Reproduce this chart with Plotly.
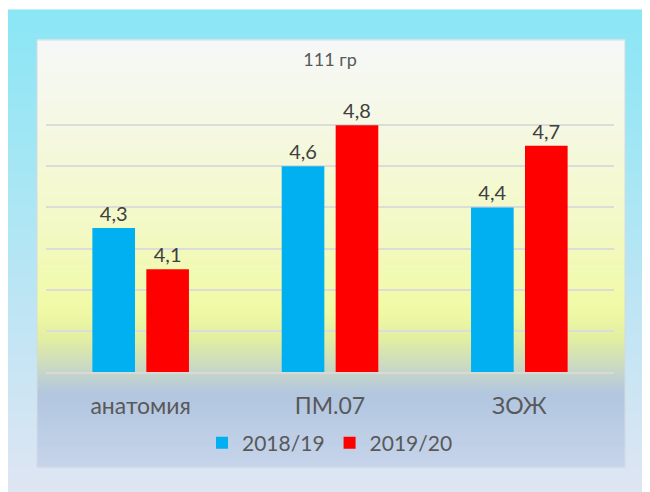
import plotly.graph_objects as go

categories = ["анатомия", "ПМ.07", "ЗОЖ"]
series_names = ["2018/19", "2019/20"]
values_2018 = [4.3, 4.6, 4.4]
values_2019 = [4.1, 4.8, 4.7]
series_colors = ["#00B0F0", "#FF0000"]
chart_title = "111 гр"

W, H = 650, 492
OFF = 8  # page body margin in the screenshot
L, R, T, B = 38, 44, 76, 128
PW, PH = W - L - R, H - T - B
FONT = "Lato, Carlito, 'Open Sans', sans-serif"


def px_to_paper_x(px):
    # px measured in screenshot coordinates
    return (px - OFF - L) / PW


def px_to_paper_y(py):
    return (H - B - (py - OFF)) / PH


def interp(stops, y):
    for (y0, c0), (y1, c1) in zip(stops, stops[1:]):
        if y0 <= y <= y1:
            t = (y - y0) / (y1 - y0) if y1 != y0 else 0
            return tuple(round(a + (b - a) * t) for a, b in zip(c0, c1))
    return stops[-1][1] if y > stops[-1][0] else stops[0][1]


shapes = []

# outer frame gradient (screenshot coords)
outer_stops = [(10, (138, 230, 245)), (492, (222, 229, 243))]
ox0, ox1, oy0, oy1 = 8, 660, 10, 502
step = 4
y = oy0
while y < oy1:
    y2 = min(y + step, oy1)
    c = interp(outer_stops, (y + y2) / 2)
    shapes.append(dict(type="rect", xref="paper", yref="paper", layer="below",
                       x0=px_to_paper_x(ox0), x1=px_to_paper_x(ox1),
                       y0=px_to_paper_y(y - 0.5), y1=px_to_paper_y(y2 + 0.5),
                       line=dict(width=0), fillcolor="rgb(%d,%d,%d)" % c))
    y = y2

# inner chart-area gradient
inner_stops = [
    (40, (246, 248, 249)),
    (120, (245, 248, 228)),
    (220, (243, 249, 200)),
    (310, (240, 250, 165)),
    (340, (225, 238, 162)),
    (372, (198, 214, 200)),
    (395, (178, 198, 224)),
    (467, (198, 212, 234)),
]
ix0, ix1, iy0, iy1 = 37, 625, 40, 467
step = 3
y = iy0
while y < iy1:
    y2 = min(y + step, iy1)
    c = interp(inner_stops, (y + y2) / 2)
    shapes.append(dict(type="rect", xref="paper", yref="paper", layer="below",
                       x0=px_to_paper_x(ix0), x1=px_to_paper_x(ix1),
                       y0=px_to_paper_y(y - 0.5), y1=px_to_paper_y(y2 + 0.5),
                       line=dict(width=0), fillcolor="rgb(%d,%d,%d)" % c))
    y = y2

# inner border
shapes.append(dict(type="rect", xref="paper", yref="paper", layer="below",
                   x0=px_to_paper_x(ix0), x1=px_to_paper_x(ix1),
                   y0=px_to_paper_y(iy0), y1=px_to_paper_y(iy1),
                   line=dict(width=1, color="rgb(212,218,224)"),
                   fillcolor="rgba(0,0,0,0)"))

fig = go.Figure()
for name, vals, col in zip(series_names, [values_2018, values_2019], series_colors):
    fig.add_trace(go.Bar(
        x=categories, y=vals, name=name,
        marker=dict(color=col, line=dict(width=0)),
        texttemplate="%{y:.1f}", textposition="outside",
        textfont=dict(family=FONT, size=20, color="#404040"),
        cliponaxis=False,
    ))

fig.update_layout(
    width=W, height=H,
    margin=dict(l=L, r=R, t=T, b=B),
    paper_bgcolor="white",
    plot_bgcolor="rgba(0,0,0,0)",
    separators=", ",
    barmode="group",
    bargap=0.43,
    bargroupgap=0.21,
    shapes=shapes,
    font=dict(family=FONT, color="#595959"),
    title=dict(text=chart_title, x=0.5, xref="paper", xanchor="center",
               y=1 - (59.5 - OFF) / H, yref="container", yanchor="middle",
               font=dict(family=FONT, size=18, color="#595959")),
    legend=dict(orientation="h", x=0.5, xanchor="center",
                y=px_to_paper_y(443), yanchor="middle",
                bgcolor="rgba(0,0,0,0)",
                font=dict(family=FONT, size=21, color="#595959")),
    showlegend=True,
)
fig.update_xaxes(
    showgrid=False, showline=True, linecolor="#D9D9D9", linewidth=2,
    ticks="", tickfont=dict(family=FONT, size=23, color="#595959"),
    ticklabelstandoff=12,
)
fig.update_yaxes(
    range=[3.6, 5.0], tick0=3.6, dtick=0.2,
    showgrid=True, gridcolor="#DCDCD8", gridwidth=2,
    showticklabels=False, zeroline=False, showline=False, ticks="",
)

fig.write_html("out.html")
